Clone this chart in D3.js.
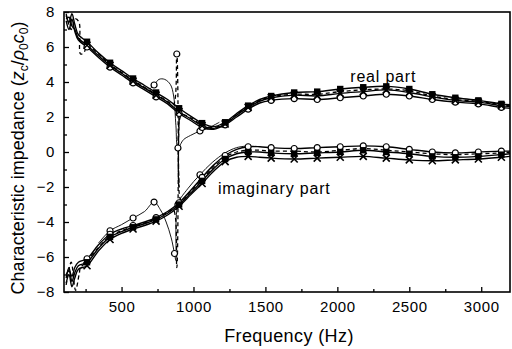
<!DOCTYPE html>
<html>
<head>
<meta charset="utf-8">
<script src="https://cdn.jsdelivr.net/npm/d3@7"></script>
<style>
  html, body { margin: 0; padding: 0; background: #fff; }
  svg { display: block; }
</style>
</head>
<body>
<svg id="chart" width="512" height="349"></svg>
<script>
// Frequency grid shared by the three marked series (Hz)
const freqs = [115, 135, 155, 175, 200, 260, 340, 420, 500, 580, 660, 740, 820, 900, 980, 1060, 1140,
  1220, 1300, 1380, 1460, 1540, 1700, 1860, 2020, 2180, 2340, 2500, 2660, 2820, 2980, 3140, 3200];
const markerFreqs = [260, 420, 580, 740, 900, 1060, 1220, 1380, 1540, 1700, 1860, 2020, 2180, 2340,
  2500, 2660, 2820, 2980, 3140];

// real part
const realSquares = [7.8, 7.4, 7.9, 7.3, 6.7, 6.3, 5.65, 5.1, 4.65, 4.2, 3.8, 3.4, 3.0, 2.5, 2.05, 1.65, 1.45,
  1.7, 2.2, 2.65, 3.0, 3.2, 3.4, 3.45, 3.6, 3.7, 3.75, 3.6, 3.3, 3.1, 2.95, 2.75, 2.7];
const realCircles = [7.5, 7.0, 7.6, 6.9, 6.4, 6.0, 5.4, 4.85, 4.4, 3.95, 3.55, 3.15, 2.75, 2.2, 1.8, 1.4, 1.3,
  1.55, 2.0, 2.45, 2.8, 2.95, 3.05, 3.0, 3.1, 3.2, 3.3, 3.2, 3.0, 2.85, 2.75, 2.55, 2.5];
const realCrosses = [7.6, 7.7, 7.2, 7.0, 6.5, 6.1, 5.5, 4.95, 4.5, 4.05, 3.65, 3.25, 2.85, 2.3, 1.9, 1.5, 1.35,
  1.6, 2.1, 2.55, 2.9, 3.1, 3.25, 3.2, 3.35, 3.45, 3.55, 3.4, 3.15, 2.95, 2.85, 2.65, 2.6];

// imaginary part
const imagSquares = [-7.2, -6.6, -7.4, -6.9, -6.5, -6.3, -5.5, -4.85, -4.55, -4.3, -4.1, -3.85, -3.5, -3.0, -2.35,
  -1.65, -0.95, -0.4, -0.1, 0.0, 0.0, -0.05, -0.1, -0.05, 0.0, 0.1, 0.0, -0.1, -0.25, -0.3, -0.25, -0.15, -0.1];
const imagCircles = [-7.0, -6.8, -7.1, -6.6, -6.3, -6.1, -5.3, -4.7, -4.4, -4.2, -4.0, -3.75, -3.4, -2.9, -2.2,
  -1.45, -0.75, -0.2, 0.15, 0.3, 0.3, 0.25, 0.2, 0.25, 0.3, 0.35, 0.3, 0.15, 0.0, -0.05, 0.0, 0.05, 0.05];
const imagCrosses = [-7.5, -7.0, -7.7, -7.2, -6.7, -6.5, -5.65, -5.0, -4.65, -4.4, -4.2, -3.95, -3.6, -3.1, -2.45,
  -1.8, -1.1, -0.55, -0.3, -0.25, -0.3, -0.35, -0.4, -0.35, -0.3, -0.25, -0.35, -0.45, -0.5, -0.45, -0.4, -0.3, -0.25];

// dashed series (with the spike near 890 Hz)
const dashFreqs = [115, 150, 180, 205, 215, 240, 260, 340, 420, 500, 580, 660, 740, 820, 860, 884, 900, 916,
  980, 1060, 1140, 1220, 1300, 1380, 1460, 1540, 1700, 1860, 2020, 2180, 2340, 2500, 2660, 2820, 2980, 3140, 3200];
const dashMarkFreqs = [884];
const realDashed = [7.9, 7.0, 7.6, 7.4, 5.6, 5.7, 6.1, 5.6, 5.0, 4.55, 4.1, 3.7, 3.3, 2.9, 2.7, 5.6, -2.0, 2.1,
  1.95, 1.55, 1.4, 1.65, 2.15, 2.6, 2.95, 3.15, 3.3, 3.3, 3.45, 3.55, 3.6, 3.5, 3.2, 3.0, 2.9, 2.7, 2.65];
const imagDashed = [-7.6, -6.3, -7.9, -7.0, -6.6, -6.4, -6.2, -5.45, -4.8, -4.5, -4.25, -4.05, -3.8, -3.45, -3.3, -6.6, 2.0, -2.8,
  -2.25, -1.55, -0.85, -0.3, 0.0, 0.1, 0.1, 0.05, 0.05, 0.0, 0.1, 0.2, 0.1, 0.0, -0.1, -0.15, -0.1, -0.05, 0.0];

// thin measured series with sparse open circles
const thinRealFreqs = [580, 640, 690, 726, 760, 800, 840, 862, 878, 892, 930, 980, 1045, 1110, 1180];
const thinReal = [4.05, 3.75, 3.6, 3.83, 4.15, 4.15, 3.85, 3.2, 1.5, 0.23, 0.7, 0.95, 1.2, 1.4, 1.7];
const thinImagFreqs = [340, 420, 500, 580, 660, 726, 770, 810, 845, 868, 878, 892, 960, 1045, 1130, 1220, 1300, 1380];
const thinImag = [-5.2, -4.5, -4.15, -3.77, -3.4, -2.86, -3.3, -4.0, -4.9, -5.8, -6.2, -3.0, -2.1, -1.3, -0.6, -0.05, 0.25, 0.35];
const thinMarkFreqs = [420, 580, 726, 868, 892, 1045];

const xTicks = [500, 1000, 1500, 2000, 2500, 3000];
const xMinorTicks = [250, 750, 1250, 1750, 2250, 2750];
const yTicks = [-8, -6, -4, -2, 0, 2, 4, 6, 8];
const yMinorTicks = [-7, -5, -3, -1, 1, 3, 5, 7];

const W = 512, H = 349;
const MARGIN = { top: 12, right: 2, bottom: 57, left: 64 };
const innerW = W - MARGIN.left - MARGIN.right;
const innerH = H - MARGIN.top - MARGIN.bottom;
const FONT = "'Liberation Sans', Arial, Helvetica, sans-serif";

const svg = d3.select('#chart');
const g = svg.append('g').attr('transform', `translate(${MARGIN.left},${MARGIN.top})`);

const x = d3.scaleLinear().domain([100, 3200]).range([0, innerW]);
const y = d3.scaleLinear().domain([-8, 8]).range([innerH, 0]);

svg.append('defs').append('clipPath').attr('id', 'plot-clip')
  .append('rect').attr('width', innerW).attr('height', innerH);

// Axes: ticks point inward
const styleAxis = sel => {
  sel.select('.domain').remove();
  sel.selectAll('.tick line').attr('stroke', '#000').attr('stroke-width', 1.3);
  sel.selectAll('.tick text').attr('fill', '#000').attr('font-family', FONT)
    .attr('font-size', '15px').attr('letter-spacing', '0.6px');
};

g.append('g').attr('transform', `translate(0,${innerH})`)
  .call(d3.axisBottom(x).tickValues(xTicks).tickSizeInner(-5).tickSizeOuter(0).tickPadding(9).tickFormat(d3.format('d')))
  .call(styleAxis);
g.append('g').attr('transform', `translate(0,${innerH})`)
  .call(d3.axisBottom(x).tickValues(xMinorTicks).tickSizeInner(-3).tickSizeOuter(0).tickFormat(''))
  .call(styleAxis);
g.append('g')
  .call(d3.axisLeft(y).tickValues(yTicks).tickSizeInner(-5).tickSizeOuter(0).tickPadding(9).tickFormat(d3.format('d')))
  .call(styleAxis);
g.append('g')
  .call(d3.axisLeft(y).tickValues(yMinorTicks).tickSizeInner(-3).tickSizeOuter(0).tickFormat(''))
  .call(styleAxis);

// frame
g.append('rect').attr('width', innerW).attr('height', innerH)
  .attr('fill', 'none').attr('stroke', '#000').attr('stroke-width', 1.6);

const plot = g.append('g').attr('clip-path', 'url(#plot-clip)');

const lineGen = d3.line()
  .x(d => x(d[0]))
  .y(d => y(d[1]))
  .curve(d3.curveCatmullRom.alpha(0.5));

const pairs = (fs, vs) => fs.map((f, i) => [f, vs[i]]);

function drawLine(data, opts) {
  plot.append('path').datum(data)
    .attr('fill', 'none')
    .attr('stroke', '#000')
    .attr('stroke-width', opts.width || 1.4)
    .attr('stroke-dasharray', opts.dash || null)
    .attr('stroke-linejoin', 'round')
    .attr('d', lineGen);
}

function drawMarkers(data, marks, shape) {
  const pts = data.filter(d => marks.includes(d[0]));
  const sel = plot.append('g').selectAll('g').data(pts).join('g')
    .attr('transform', d => `translate(${x(d[0])},${y(d[1])})`);
  if (shape === 'square') {
    sel.append('rect').attr('x', -3.2).attr('y', -3.2).attr('width', 6.4).attr('height', 6.4).attr('fill', '#000');
  } else if (shape === 'circle') {
    sel.append('circle').attr('r', 3).attr('fill', '#fff').attr('stroke', '#000').attr('stroke-width', 1.2);
  } else if (shape === 'cross') {
    sel.append('path').attr('d', 'M-3.5,-3.5L3.5,3.5M-3.5,3.5L3.5,-3.5')
      .attr('stroke', '#000').attr('stroke-width', 1.6);
  }
}

const series = [
  { fs: dashFreqs, vals: realDashed, dash: '4,3', width: 1.3, marks: dashMarkFreqs, shape: 'circle' },
  { fs: dashFreqs, vals: imagDashed, dash: '4,3', width: 1.3, marks: [], shape: null },
  { fs: thinRealFreqs, vals: thinReal, width: 0.9, marks: thinMarkFreqs, shape: 'circle' },
  { fs: thinImagFreqs, vals: thinImag, width: 0.9, marks: thinMarkFreqs, shape: 'circle' },
  { fs: freqs, vals: realCircles, marks: markerFreqs, shape: 'circle' },
  { fs: freqs, vals: imagCircles, marks: markerFreqs, shape: 'circle' },
  { fs: freqs, vals: realCrosses, marks: markerFreqs, shape: 'cross' },
  { fs: freqs, vals: imagCrosses, marks: markerFreqs, shape: 'cross' },
  { fs: freqs, vals: realSquares, marks: markerFreqs, shape: 'square' },
  { fs: freqs, vals: imagSquares, marks: markerFreqs, shape: 'square' },
];

series.forEach(s => drawLine(pairs(s.fs, s.vals), s));
series.forEach(s => { if (s.shape) drawMarkers(pairs(s.fs, s.vals), s.marks, s.shape); });

// annotations
g.append('text').attr('x', x(2090)).attr('y', y(4.0))
  .attr('font-family', FONT).attr('font-size', '16px').attr('letter-spacing', '0.8px')
  .text('real part');
g.append('text').attr('x', x(1170)).attr('y', y(-2.4))
  .attr('font-family', FONT).attr('font-size', '16px').attr('letter-spacing', '0.8px')
  .text('imaginary part');

// axis titles
svg.append('text').attr('x', 289).attr('y', 342).attr('text-anchor', 'middle')
  .attr('font-family', FONT).attr('font-size', '18px').attr('letter-spacing', '0.4px')
  .text('Frequency (Hz)');

const yt = svg.append('text').attr('transform', 'translate(24,158) rotate(-90)')
  .attr('text-anchor', 'middle').attr('font-family', FONT).attr('font-size', '18px');
yt.append('tspan').text('Characteristic impedance (');
yt.append('tspan').attr('font-style', 'italic').text('z');
yt.append('tspan').attr('font-size', '12px').attr('dy', 4).text('c');
yt.append('tspan').attr('dy', -4).text('/');
yt.append('tspan').attr('font-style', 'italic').text('ρ');
yt.append('tspan').attr('font-size', '12px').attr('dy', 4).text('0');
yt.append('tspan').attr('font-style', 'italic').attr('dy', -4).text('c');
yt.append('tspan').attr('font-size', '12px').attr('dy', 4).text('0');
yt.append('tspan').attr('dy', -4).text(')');
</script>
</body>
</html>
